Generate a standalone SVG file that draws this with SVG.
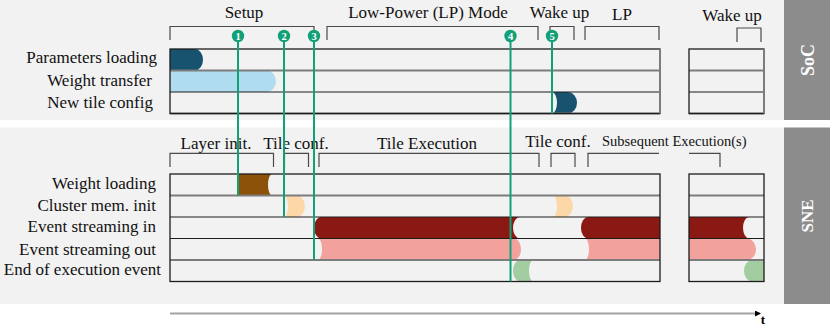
<svg xmlns="http://www.w3.org/2000/svg" width="830" height="326" viewBox="0 0 830 326">
<defs>
<style>
.lbl{font-family:"Liberation Serif","Times New Roman",serif;font-size:17px;fill:#111}
.mid{text-anchor:middle}
.end{text-anchor:end}
.br{fill:none;stroke:#4a4a4a;stroke-width:1.2}
.box{fill:none;stroke:#1c1c1c;stroke-width:1.3}
.bl{stroke:#1c1c1c;stroke-width:1.2}
.gl{stroke:#7c7c7c;stroke-width:2}
.mk{stroke:#12a078;stroke-width:2;fill:none}
.mc{fill:#12a078}
.mn{font-family:"Liberation Serif","Times New Roman",serif;font-weight:bold;font-size:10.5px;fill:#fff;text-anchor:middle}
.side{fill:#8c8c8c}
.sidet{font-family:"Liberation Serif","Times New Roman",serif;font-weight:bold;font-size:18px;fill:#fff;text-anchor:middle}
.dblue{fill:#17526f}
.lblue{fill:#afdcef}
.brown{fill:#8c5209}
.peach{fill:#fcd8a9}
.dred{fill:#8a1914}
.pink{fill:#f2a19d}
.green{fill:#a2cda0}
</style>
<marker id="arr" markerWidth="6" markerHeight="6" refX="5" refY="3" orient="auto" markerUnits="userSpaceOnUse">
<path d="M0,0 L6,3 L0,6 Z" fill="#000"/>
</marker>
</defs>
<rect x="0" y="0" width="830" height="326" fill="#ffffff"/>
<g id="panel-soc">
<rect x="0" y="0" width="784" height="120" fill="#f2f2f2"/>
<rect class="side" x="784" y="0" width="46" height="120"/>
<text class="sidet" transform="translate(814,60) rotate(-90)">SoC</text>
</g>
<g id="panel-sne">
<rect x="0" y="127.5" width="784" height="176.5" fill="#f2f2f2"/>
<rect class="side" x="784" y="127.5" width="46" height="176.5"/>
<text class="sidet" transform="translate(813,216) rotate(-90)" style="font-size:17px">SNE</text>
</g>
<g id="phases-soc">
<path class="br" d="M170,40 V26.5 H314 V40"/>
<text class="lbl mid" x="244" y="18">Setup</text>
<path class="br" d="M327,40 V26.5 H538 V40"/>
<text class="lbl mid" x="428" y="18">Low-Power (LP) Mode</text>
<path class="br" d="M550,40 V26.5 H574 V40"/>
<text class="lbl mid" x="559.5" y="18">Wake up</text>
<path class="br" d="M585,40 V26.5 H659 V40"/>
<text class="lbl mid" x="622" y="20">LP</text>
<path class="br" d="M737,42 V28 H761 V42"/>
<text class="lbl mid" x="732" y="20.5">Wake up</text>
</g>
<g id="phases-sne">
<path class="br" d="M170,167 V153.3 H273.5 V167"/>
<text class="lbl mid" x="216" y="149">Layer init.</text>
<path class="br" d="M284.5,167 V153.3 H308.5 V167"/>
<text class="lbl mid" x="296" y="149">Tile conf.</text>
<path class="br" d="M319,167 V153.3 H539 V167"/>
<text class="lbl mid" x="427" y="149">Tile Execution</text>
<path class="br" d="M551,167 V153.3 H575 V167"/>
<text class="lbl mid" x="558" y="147">Tile conf.</text>
<path class="br" d="M588,167 V153.3 H659"/>
<text class="lbl" x="602" y="145.5" style="font-size:14.5px">Subsequent Execution(s)</text>
<path class="br" d="M689,153.3 H720 V167"/>
</g>
<g id="row-labels">
<text class="lbl end" x="157" y="63">Parameters loading</text>
<text class="lbl end" x="152" y="86">Weight transfer</text>
<text class="lbl end" x="153" y="108">New tile config</text>
<text class="lbl end" x="156" y="189">Weight loading</text>
<text class="lbl end" x="156" y="210.5">Cluster mem. init</text>
<text class="lbl end" x="156" y="231.5">Event streaming in</text>
<text class="lbl end" x="156" y="254.5">Event streaming out</text>
<text class="lbl end" x="161" y="275">End of execution event</text>
</g>
<g id="soc-bars">
<path class="dblue" d="M170,49 H195 A8,10.75 0 0 1 195,70.5 H170 Z"/>
<path class="lblue" d="M170,70.5 H267 A9,10.75 0 0 1 267,92 H170 Z"/>
<path class="dblue" d="M552,92 H568 A9,10.75 0 0 1 568,113.5 H552 A5,10.75 0 0 0 552,92 Z"/>
</g>
<g id="sne-bars">
<path class="brown" d="M238,174 H272 A4,10.75 0 0 0 272,195.5 H238 Z"/>
<path class="peach" d="M284,195.5 H297 A8,10.75 0 0 1 297,217 H284 A4,10.75 0 0 0 284,195.5 Z"/>
<path class="peach" d="M553,195.5 H565 A8,10.75 0 0 1 565,217 H553 A4,10.75 0 0 0 553,195.5 Z"/>
<path class="dred" d="M321,217 H520 A7,10.75 0 0 0 520,238.5 H321 A7,10.75 0 0 1 321,217 Z"/>
<path class="dred" d="M660,217 H588 A7,10.75 0 0 0 588,238.5 H660 Z"/>
<path class="pink" d="M318,238.5 H514 A7,10.75 0 0 1 514,260 H318 A4,10.75 0 0 0 318,238.5 Z"/>
<path class="pink" d="M585,238.5 H660 V260 H585 A4,10.75 0 0 0 585,238.5 Z"/>
<path class="green" d="M520,260 H533 A4,10.75 0 0 0 533,281.5 H520 A7,10.75 0 0 1 520,260 Z"/>
<path class="dred" d="M689,217 H749 A6,10.75 0 0 0 749,238.5 H689 Z"/>
<path class="pink" d="M689,238.5 H747 A9,10.75 0 0 1 747,260 H689 Z"/>
<path class="green" d="M764,260 H752 A8,10.75 0 0 0 752,281.5 H764 Z"/>
</g>
<g id="soc-grid">
<line class="gl" x1="170" y1="70.5" x2="660" y2="70.5"/>
<line class="gl" x1="170" y1="113.5" x2="660" y2="113.5"/>
<line class="bl" x1="170" y1="92" x2="660" y2="92"/>
<rect class="box" x="170" y="49" width="490" height="64.5"/>
<line class="gl" x1="660" y1="49" x2="660" y2="113.5"/>
<line class="gl" x1="689" y1="70.5" x2="764" y2="70.5"/>
<line class="gl" x1="689" y1="113.5" x2="764" y2="113.5"/>
<line class="bl" x1="689" y1="92" x2="764" y2="92"/>
<rect class="box" x="689" y="49" width="75" height="64.5"/>
<line class="gl" x1="764" y1="49" x2="764" y2="113.5"/>
</g>
<g id="sne-grid">
<line class="gl" x1="170" y1="195.5" x2="660" y2="195.5"/>
<line class="bl" x1="170" y1="217" x2="660" y2="217"/>
<line class="bl" x1="170" y1="238.5" x2="660" y2="238.5"/>
<line class="gl" x1="170" y1="260" x2="660" y2="260"/>
<rect class="box" x="170" y="174" width="490" height="107.5"/>
<line class="gl" x1="689" y1="195.5" x2="764" y2="195.5"/>
<line class="bl" x1="689" y1="217" x2="764" y2="217"/>
<line class="bl" x1="689" y1="238.5" x2="764" y2="238.5"/>
<line class="gl" x1="689" y1="260" x2="764" y2="260"/>
<rect class="box" x="689" y="174" width="75" height="107.5"/>
</g>
<g id="connectors">
<line class="mk" x1="238" y1="36" x2="238" y2="195.5"/>
<line class="mk" x1="284" y1="36" x2="284" y2="217"/>
<line class="mk" x1="314" y1="36" x2="314" y2="260"/>
<line class="mk" x1="510.5" y1="36" x2="510.5" y2="281.5"/>
<line class="mk" x1="552" y1="36" x2="552" y2="113.5"/>
<line x1="170" y1="313.5" x2="760" y2="313.5" stroke="#a3a3a3" stroke-width="2" marker-end="url(#arr)"/>
</g>
<g id="marker-1"><circle class="mc" cx="238" cy="36" r="6.2"/><text class="mn" x="238" y="39.8">1</text></g>
<g id="marker-2"><circle class="mc" cx="284" cy="36" r="6.2"/><text class="mn" x="284" y="39.8">2</text></g>
<g id="marker-3"><circle class="mc" cx="314" cy="36" r="6.2"/><text class="mn" x="314" y="39.8">3</text></g>
<g id="marker-4"><circle class="mc" cx="510.5" cy="36" r="6.2"/><text class="mn" x="510.5" y="39.8">4</text></g>
<g id="marker-5"><circle class="mc" cx="552" cy="36" r="6.2"/><text class="mn" x="552" y="39.8">5</text></g>
<g id="axis-label"><text x="763" y="323.5" style="font-family:'Liberation Serif','Times New Roman',serif;font-weight:bold;font-size:13px;fill:#000;text-anchor:middle">t</text></g>
</svg>
